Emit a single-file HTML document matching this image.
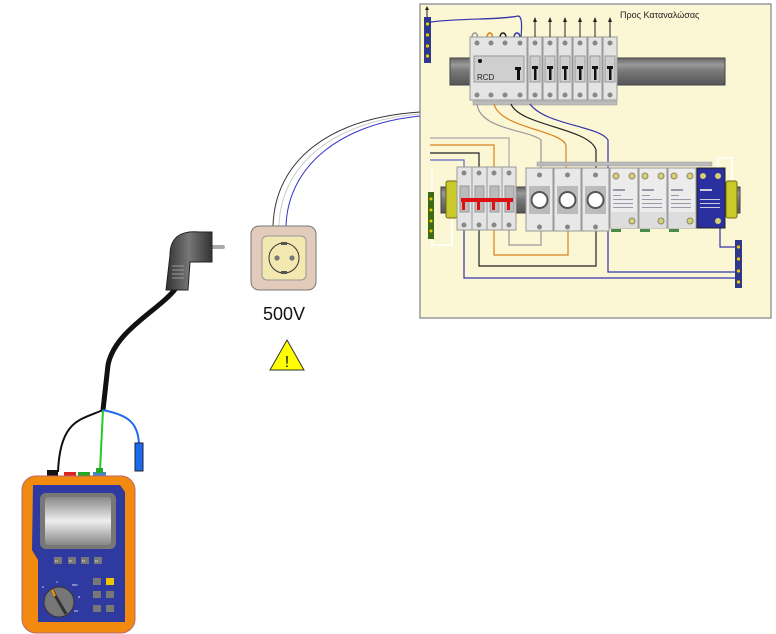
<!DOCTYPE html>
<html><head><meta charset="utf-8"><style>
html,body{margin:0;padding:0;background:#fff;}
svg{display:block;}
text{font-family:"Liberation Sans",sans-serif;}
</style></head><body>
<svg width="776" height="634" viewBox="0 0 776 634" xmlns="http://www.w3.org/2000/svg">
<defs>
<linearGradient id="rail" x1="0" y1="0" x2="0" y2="1"><stop offset="0" stop-color="#666"/><stop offset=".25" stop-color="#999"/><stop offset=".5" stop-color="#777"/><stop offset="1" stop-color="#555"/></linearGradient>
<linearGradient id="scr" x1="0" y1="0" x2="0" y2="1"><stop offset="0" stop-color="#888"/><stop offset=".5" stop-color="#eee"/><stop offset="1" stop-color="#888"/></linearGradient>
<linearGradient id="plug" x1="0" y1="0" x2="1" y2="0"><stop offset="0" stop-color="#333"/><stop offset=".5" stop-color="#777"/><stop offset="1" stop-color="#333"/></linearGradient>
</defs>

<rect x="420" y="4" width="351" height="314" fill="#fbf6d4" stroke="#999" stroke-width="1.5"/>

<path d="M273 226 C275 160 330 118 420 112" fill="none" stroke="#333" stroke-width="1"/>
<path d="M279 226 C281 163 335 121 420 114" fill="none" stroke="#ccc" stroke-width="1"/>
<path d="M286 226 C288 166 340 124 420 116" fill="none" stroke="#3333cc" stroke-width="1"/>

<rect x="450" y="58" width="275" height="27" fill="url(#rail)" stroke="#444"/>
<rect x="424" y="17" width="7" height="46" fill="#2d3a8c"/>
<g fill="#f5c800"><circle cx="427.5" cy="24" r="1.6"/><circle cx="427.5" cy="35" r="1.6"/><circle cx="427.5" cy="46" r="1.6"/><circle cx="427.5" cy="56" r="1.6"/></g>
<path d="M427 17 L427 8" stroke="#222" stroke-width="1"/><path d="M425 10 L427 6 L429 10Z" fill="#222"/>
<path d="M431 22 C460 18 500 20 518 16 C522 16 522 25 521 38" fill="none" stroke="#3333aa" stroke-width="1.2"/>
<path d="M472 42 C470 30 480 30 477 42" fill="none" stroke="#999" stroke-width="1.5"/>
<path d="M487 42 C485 30 495 30 492 42" fill="none" stroke="#d9801a" stroke-width="1.5"/>
<path d="M500 42 C498 30 508 30 506 42" fill="none" stroke="#222" stroke-width="1.5"/>
<path d="M514 42 C512 30 522 30 520 42" fill="none" stroke="#3333aa" stroke-width="1.5"/>
<rect x="470" y="37" width="57" height="63" fill="#e4e4e4" stroke="#999"/>
<rect x="474" y="56" width="50" height="26" fill="#cfcfcf" stroke="#999"/>
<circle cx="480" cy="61" r="2" fill="#111"/>
<text x="477" y="80" font-size="8" fill="#222">RCD</text>
<rect x="515" y="67" width="6" height="3" fill="#111"/><rect x="517" y="67" width="3" height="13" fill="#111"/>
<g fill="#888"><circle cx="477" cy="43" r="2.5"/><circle cx="491" cy="43" r="2.5"/><circle cx="505" cy="43" r="2.5"/><circle cx="520" cy="43" r="2.5"/>
<circle cx="477" cy="95" r="2.5"/><circle cx="491" cy="95" r="2.5"/><circle cx="505" cy="95" r="2.5"/><circle cx="520" cy="95" r="2.5"/></g>
<g id="mcb">
<rect x="528" y="37" width="14" height="63" fill="#e4e4e4" stroke="#999"/>
<rect x="530" y="56" width="10" height="26" fill="#cfcfcf" stroke="#999"/>
<rect x="532" y="66" width="6" height="3" fill="#111"/><rect x="534" y="66" width="2.5" height="14" fill="#111"/>
<circle cx="535" cy="43" r="2.5" fill="#888"/><circle cx="535" cy="95" r="2.5" fill="#888"/>
<path d="M535 37 L535 21" stroke="#222"/><path d="M533 22 L535 17 L537 22Z" fill="#222"/>
</g>
<use href="#mcb" x="15"/><use href="#mcb" x="30"/><use href="#mcb" x="45"/><use href="#mcb" x="60"/><use href="#mcb" x="75"/>
<rect x="473" y="101" width="144" height="4" fill="#bbb" stroke="#999" stroke-width=".5"/>
<text x="620" y="18" font-size="9" fill="#222">Προς Καταναλώσας</text>

<path d="M477 104 C480 130 530 130 541 140 L541 168" fill="none" stroke="#999" stroke-width="1.2"/>
<path d="M494 104 C500 128 560 130 566 145 L566 168" fill="none" stroke="#d9801a" stroke-width="1.2"/>
<path d="M511 104 C520 126 590 128 596 150 L596 168" fill="none" stroke="#222" stroke-width="1.2"/>
<path d="M530 104 C545 125 600 126 608 140 L608 272 L738 272" fill="none" stroke="#3333aa" stroke-width="1.2"/>
<path d="M430 138 L509 138 L509 167" fill="none" stroke="#aaa" stroke-width="1.2"/>
<path d="M430 145 L494 145 L494 167" fill="none" stroke="#d9801a" stroke-width="1.2"/>
<path d="M430 153 L479 153 L479 167" fill="none" stroke="#222" stroke-width="1.2"/>
<path d="M430 160 L464 160 L464 167" fill="none" stroke="#6666cc" stroke-width="1.2"/>
<path d="M509 230 L509 245 L541 245 L541 227" fill="none" stroke="#999" stroke-width="1.2"/>
<path d="M494 230 L494 255 L568 255 L568 227" fill="none" stroke="#d9801a" stroke-width="1.2"/>
<path d="M479 230 L479 266 L596 266 L596 227" fill="none" stroke="#222" stroke-width="1.2"/>
<path d="M464 230 L464 278 L738 278" fill="none" stroke="#3333aa" stroke-width="1.2"/>
<path d="M720 228 L720 247 L738 247" fill="none" stroke="#3333aa" stroke-width="1.2"/>
<path d="M432 170 L432 245 L452 245 L452 207" fill="none" stroke="#fff" stroke-width="1.5"/>
<path d="M718 168 L718 158 L732 158 L732 190" fill="none" stroke="#fff" stroke-width="1.5"/>

<rect x="441" y="187" width="299" height="26" fill="url(#rail)" stroke="#444"/>
<rect x="537" y="162" width="175" height="4" fill="#bbb" stroke="#999" stroke-width=".5"/>
<rect x="446" y="181" width="11" height="37" rx="2" fill="#c9c92a" stroke="#6a6a10"/>
<rect x="726" y="181" width="11" height="37" rx="2" fill="#c9c92a" stroke="#6a6a10"/>
<rect x="428" y="192" width="6" height="47" fill="#3c6a12"/>
<g fill="#f5c800"><circle cx="431" cy="199" r="1.5"/><circle cx="431" cy="210" r="1.5"/><circle cx="431" cy="221" r="1.5"/><circle cx="431" cy="231" r="1.5"/></g>
<rect x="735" y="240" width="7" height="48" fill="#2d3a8c"/>
<g fill="#f5c800"><circle cx="738.5" cy="247" r="1.6"/><circle cx="738.5" cy="259" r="1.6"/><circle cx="738.5" cy="271" r="1.6"/><circle cx="738.5" cy="282" r="1.6"/></g>

<g fill="#e4e4e4" stroke="#999">
<rect x="457" y="167" width="15" height="63"/><rect x="472" y="167" width="15" height="63"/><rect x="487" y="167" width="15" height="63"/><rect x="502" y="167" width="14" height="63"/></g>
<g fill="#bbb" stroke="#999"><rect x="460" y="186" width="9" height="26"/><rect x="475" y="186" width="9" height="26"/><rect x="490" y="186" width="9" height="26"/><rect x="505" y="186" width="9" height="26"/></g>
<rect x="461" y="198" width="52" height="4" fill="#e01010"/>
<g fill="#e01010"><rect x="462" y="198" width="3" height="12"/><rect x="477" y="198" width="3" height="12"/><rect x="492" y="198" width="3" height="12"/><rect x="507" y="198" width="3" height="12"/></g>
<g fill="#888"><circle cx="464" cy="173" r="2.5"/><circle cx="479" cy="173" r="2.5"/><circle cx="494" cy="173" r="2.5"/><circle cx="509" cy="173" r="2.5"/>
<circle cx="464" cy="225" r="2.5"/><circle cx="479" cy="225" r="2.5"/><circle cx="494" cy="225" r="2.5"/><circle cx="509" cy="225" r="2.5"/></g>
<g id="fuse">
<rect x="526" y="168" width="27" height="63" fill="#e8e8e8" stroke="#999"/>
<rect x="529" y="186" width="21" height="28" fill="#bbb"/>
<circle cx="539.5" cy="200" r="9" fill="#555"/><circle cx="539.5" cy="200" r="7" fill="#fff"/>
<circle cx="539.5" cy="175" r="2.5" fill="#888"/><circle cx="539.5" cy="227" r="2.5" fill="#888"/>
</g>
<use href="#fuse" x="28"/><use href="#fuse" x="56"/>
<g id="spd">
<rect x="610" y="168" width="28" height="60" fill="#ececec" stroke="#999"/>
<rect x="611" y="212" width="26" height="16" fill="#ddd"/>
<circle cx="616" cy="176" r="3" fill="#d8d070" stroke="#887"/><circle cx="632" cy="176" r="3" fill="#d8d070" stroke="#887"/>
<circle cx="632" cy="221" r="3" fill="#d8d070" stroke="#887"/>
<g fill="#99a"><rect x="613" y="189" width="12" height="2"/><rect x="613" y="195" width="8" height="1"/><rect x="613" y="199" width="20" height="1"/><rect x="613" y="203" width="20" height="1"/><rect x="613" y="207" width="20" height="1"/></g>
<rect x="611" y="229" width="10" height="3" fill="#4a8a4a"/>
</g>
<use href="#spd" x="29"/><use href="#spd" x="58"/>
<rect x="697" y="168" width="28" height="60" fill="#2a30a0" stroke="#222"/>
<circle cx="703" cy="176" r="3" fill="#d8d070"/><circle cx="718" cy="176" r="3" fill="#d8d070"/><circle cx="718" cy="221" r="3" fill="#d8d070"/>
<g fill="#ccd"><rect x="700" y="189" width="12" height="2"/><rect x="700" y="199" width="20" height="1"/><rect x="700" y="203" width="20" height="1"/><rect x="700" y="207" width="20" height="1"/></g>

<rect x="251" y="226" width="65" height="64" rx="8" fill="#e2cbbb" stroke="#777"/>
<rect x="262" y="236" width="44" height="44" rx="5" fill="#f3e8b0" stroke="#999"/>
<circle cx="284" cy="258" r="15" fill="#f3e8b0" stroke="#333"/>
<circle cx="277" cy="258" r="2.6" fill="#777"/><circle cx="292" cy="258" r="2.6" fill="#777"/>
<rect x="281" y="242" width="6" height="3" fill="#555"/><rect x="281" y="271" width="6" height="3" fill="#555"/>
<text x="263" y="320" font-size="18" fill="#111">500V</text>
<path d="M287 340 L304 370 L270 370Z" fill="#ffff00" stroke="#333"/>
<text x="287" y="367" font-size="16" text-anchor="middle" fill="#111">!</text>

<path d="M176 288 C160 310 115 330 108 365 L103 410" fill="none" stroke="#111" stroke-width="5"/>
<path d="M103 410 C80 420 60 420 58 472" fill="none" stroke="#111" stroke-width="2"/>
<path d="M103 410 L100 470" fill="none" stroke="#22cc22" stroke-width="2"/>
<path d="M103 410 C125 415 138 420 139 444" fill="none" stroke="#1a6aee" stroke-width="2"/>
<rect x="135" y="443" width="8" height="28" fill="#1a6aee" stroke="#223"/>
<rect x="200" y="245" width="25" height="4" rx="2" fill="#aaa"/>
<path d="M170 255 C170 238 180 230 200 232 L212 232 L212 262 L190 262 L188 290 L166 290 Z" fill="url(#plug)" stroke="#222"/>
<g stroke="#999"><line x1="172" y1="266" x2="184" y2="266"/><line x1="172" y1="270" x2="184" y2="270"/><line x1="172" y1="274" x2="184" y2="274"/><line x1="172" y1="278" x2="184" y2="278"/></g>

<rect x="47" y="470" width="11" height="6" fill="#111"/><rect x="64" y="472" width="12" height="4" fill="#d22"/><rect x="78" y="472" width="12" height="4" fill="#2a2"/><rect x="93" y="472" width="13" height="4" fill="#48c"/>
<rect x="96" y="468" width="7" height="5" fill="#2a2"/>
<rect x="22" y="476" width="113" height="157" rx="14" fill="#f28a10" stroke="#b66"/>
<path d="M33 485 L120 485 L125 492 L125 622 L38 622 L38 560 L32 550 Z" fill="#2e3aa0"/>
<rect x="40" y="493" width="76" height="56" rx="6" fill="#777"/>
<rect x="45" y="497" width="66" height="48" rx="3" fill="url(#scr)"/>
<g fill="#777"><rect x="54" y="557" width="8" height="7"/><rect x="68" y="557" width="8" height="7"/><rect x="81" y="557" width="8" height="7"/><rect x="94" y="557" width="8" height="7"/></g>
<g fill="#fff" font-size="2.5"><text x="55" y="562">F1</text><text x="69" y="562">F2</text><text x="82" y="562">F3</text><text x="95" y="562">F4</text></g>
<circle cx="59" cy="602" r="15" fill="#777" stroke="#333"/>
<path d="M52 590 L66 614" stroke="#333" stroke-width="3"/>
<path d="M52 590 L55 596" stroke="#f90" stroke-width="2"/>
<g fill="#fff" font-size="2.5"><text x="42" y="588">R</text><text x="56" y="583">V</text><text x="72" y="586">500V</text><text x="78" y="598">M</text><text x="74" y="612">2kV</text></g>
<g fill="#777"><rect x="93" y="578" width="8" height="7"/><rect x="93" y="591" width="8" height="7"/><rect x="106" y="591" width="8" height="7"/><rect x="93" y="605" width="8" height="7"/><rect x="106" y="605" width="8" height="7"/></g>
<rect x="106" y="578" width="8" height="7" fill="#f3c400"/>
</svg>
</body></html>
